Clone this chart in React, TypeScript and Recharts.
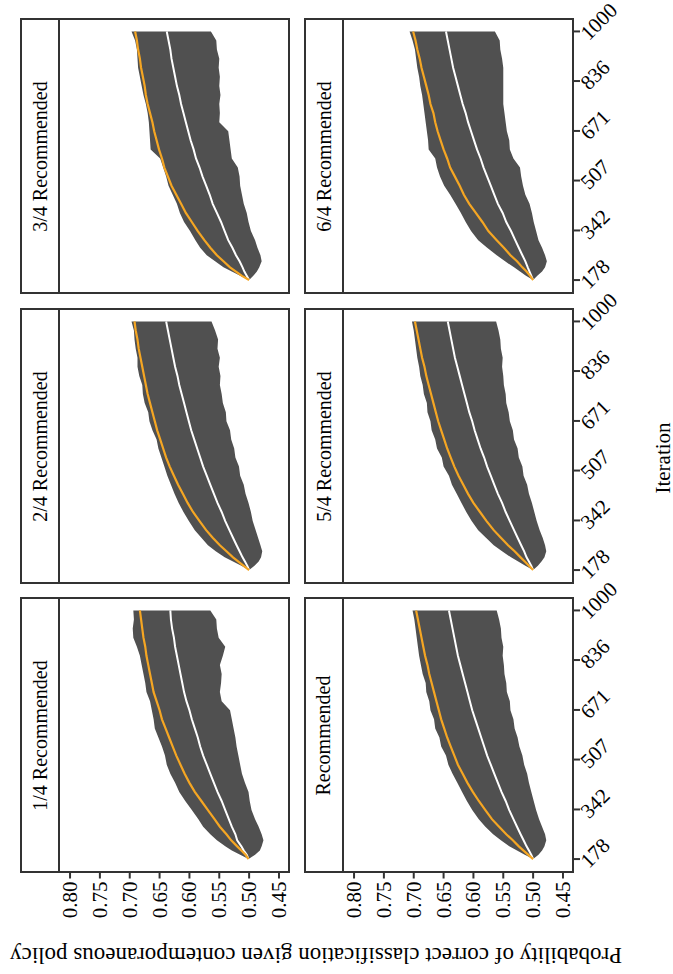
import { ComposedChart, Area, Line, XAxis, YAxis } from "recharts";

const FONT = '"Liberation Serif", "DejaVu Serif", serif';
const INK = "#333333";
const BAND = "#505050";
const ORANGE = "#f5a623";

// iteration at which each value was read (shared by all panels)
const iterations = [178, 192, 206, 220, 240, 260, 285, 310, 340, 370, 400, 430, 460, 490, 520, 550, 580, 610, 640, 670, 700, 730, 760, 790, 820, 850, 880, 910, 940, 970, 1000];

const probTicks = [0.8, 0.75, 0.7, 0.65, 0.6, 0.55, 0.5, 0.45];
const iterTicks = [178, 342, 507, 671, 836, 1000];
const probDomain = [0.4332, 0.8185];
const iterDomain = [136.9, 1041.1];

// 1/4 Recommended
const q1High = [0.501, 0.515, 0.529, 0.54, 0.554, 0.565, 0.577, 0.585, 0.596, 0.607, 0.617, 0.624, 0.632, 0.638, 0.641, 0.646, 0.652, 0.658, 0.66, 0.663, 0.666, 0.672, 0.674, 0.677, 0.68, 0.683, 0.688, 0.694, 0.695, 0.693, 0.694];
const q1Low = [0.501, 0.49, 0.482, 0.479, 0.476, 0.479, 0.484, 0.49, 0.496, 0.499, 0.501, 0.507, 0.512, 0.515, 0.518, 0.521, 0.523, 0.526, 0.529, 0.532, 0.546, 0.549, 0.547, 0.546, 0.549, 0.544, 0.54, 0.551, 0.554, 0.555, 0.565];
const q1Orange = [0.501, 0.506, 0.513, 0.52, 0.53, 0.538, 0.549, 0.558, 0.569, 0.58, 0.591, 0.6, 0.608, 0.615, 0.622, 0.628, 0.634, 0.64, 0.646, 0.65, 0.655, 0.66, 0.663, 0.666, 0.669, 0.672, 0.674, 0.677, 0.679, 0.681, 0.683];
const q1White = [0.501, 0.504, 0.509, 0.513, 0.52, 0.523, 0.529, 0.534, 0.54, 0.546, 0.553, 0.559, 0.565, 0.571, 0.577, 0.582, 0.586, 0.591, 0.596, 0.6, 0.605, 0.609, 0.612, 0.615, 0.618, 0.621, 0.624, 0.626, 0.629, 0.631, 0.632];

// 2/4 Recommended
const q2High = [0.5, 0.513, 0.527, 0.541, 0.556, 0.569, 0.58, 0.591, 0.601, 0.61, 0.618, 0.625, 0.631, 0.637, 0.642, 0.647, 0.652, 0.655, 0.662, 0.667, 0.669, 0.675, 0.678, 0.679, 0.684, 0.687, 0.687, 0.69, 0.692, 0.693, 0.697];
const q2Low = [0.5, 0.491, 0.484, 0.48, 0.478, 0.481, 0.485, 0.489, 0.494, 0.497, 0.501, 0.506, 0.509, 0.515, 0.517, 0.523, 0.525, 0.53, 0.532, 0.538, 0.539, 0.544, 0.546, 0.549, 0.548, 0.551, 0.549, 0.553, 0.552, 0.557, 0.563];
const q2Orange = [0.5, 0.509, 0.518, 0.527, 0.538, 0.549, 0.561, 0.572, 0.583, 0.594, 0.603, 0.611, 0.619, 0.626, 0.633, 0.639, 0.644, 0.649, 0.654, 0.658, 0.662, 0.666, 0.67, 0.673, 0.676, 0.679, 0.682, 0.685, 0.687, 0.69, 0.692];
const q2White = [0.5, 0.503, 0.507, 0.511, 0.516, 0.521, 0.527, 0.533, 0.54, 0.546, 0.553, 0.559, 0.565, 0.571, 0.577, 0.582, 0.587, 0.592, 0.597, 0.601, 0.605, 0.609, 0.613, 0.617, 0.62, 0.624, 0.627, 0.63, 0.633, 0.636, 0.639];

// 3/4 Recommended
const q3High = [0.5, 0.515, 0.529, 0.543, 0.557, 0.571, 0.582, 0.59, 0.599, 0.609, 0.616, 0.621, 0.628, 0.635, 0.639, 0.644, 0.649, 0.665, 0.666, 0.667, 0.668, 0.67, 0.673, 0.677, 0.68, 0.683, 0.686, 0.687, 0.688, 0.691, 0.697];
const q3Low = [0.5, 0.493, 0.487, 0.483, 0.479, 0.481, 0.486, 0.49, 0.497, 0.501, 0.504, 0.509, 0.512, 0.515, 0.516, 0.519, 0.529, 0.531, 0.533, 0.535, 0.55, 0.549, 0.55, 0.548, 0.55, 0.549, 0.551, 0.55, 0.554, 0.555, 0.564];
const q3Orange = [0.5, 0.512, 0.522, 0.532, 0.543, 0.554, 0.565, 0.575, 0.586, 0.596, 0.606, 0.614, 0.622, 0.63, 0.636, 0.642, 0.646, 0.651, 0.655, 0.659, 0.662, 0.666, 0.67, 0.673, 0.675, 0.678, 0.681, 0.683, 0.686, 0.688, 0.691];
const q3White = [0.5, 0.504, 0.508, 0.511, 0.516, 0.522, 0.528, 0.535, 0.541, 0.547, 0.554, 0.561, 0.566, 0.572, 0.578, 0.583, 0.589, 0.593, 0.598, 0.602, 0.606, 0.61, 0.614, 0.617, 0.621, 0.624, 0.627, 0.63, 0.632, 0.635, 0.638];

// Recommended
const recHigh = [0.5, 0.514, 0.527, 0.54, 0.554, 0.567, 0.58, 0.591, 0.602, 0.611, 0.619, 0.627, 0.635, 0.642, 0.646, 0.654, 0.657, 0.664, 0.666, 0.672, 0.674, 0.679, 0.68, 0.685, 0.688, 0.691, 0.693, 0.695, 0.697, 0.699, 0.702];
const recLow = [0.5, 0.491, 0.485, 0.481, 0.478, 0.48, 0.485, 0.49, 0.495, 0.499, 0.503, 0.507, 0.51, 0.515, 0.518, 0.523, 0.526, 0.531, 0.533, 0.538, 0.539, 0.544, 0.545, 0.548, 0.549, 0.551, 0.55, 0.553, 0.554, 0.557, 0.561];
const recOrange = [0.5, 0.508, 0.516, 0.524, 0.534, 0.545, 0.557, 0.569, 0.58, 0.591, 0.601, 0.61, 0.618, 0.626, 0.632, 0.638, 0.644, 0.649, 0.654, 0.658, 0.662, 0.666, 0.67, 0.674, 0.677, 0.681, 0.684, 0.687, 0.69, 0.693, 0.696];
const recWhite = [0.5, 0.503, 0.507, 0.511, 0.516, 0.521, 0.527, 0.533, 0.54, 0.546, 0.553, 0.559, 0.565, 0.571, 0.577, 0.582, 0.587, 0.592, 0.597, 0.602, 0.606, 0.61, 0.614, 0.618, 0.622, 0.626, 0.629, 0.632, 0.635, 0.638, 0.641];

// 5/4 Recommended
const q5High = [0.5, 0.513, 0.525, 0.537, 0.552, 0.566, 0.579, 0.592, 0.603, 0.612, 0.62, 0.628, 0.636, 0.641, 0.65, 0.653, 0.661, 0.664, 0.67, 0.672, 0.677, 0.678, 0.683, 0.685, 0.689, 0.691, 0.694, 0.696, 0.698, 0.7, 0.703];
const q5Low = [0.5, 0.492, 0.486, 0.481, 0.478, 0.48, 0.484, 0.489, 0.494, 0.498, 0.502, 0.507, 0.51, 0.516, 0.518, 0.524, 0.526, 0.532, 0.534, 0.539, 0.541, 0.545, 0.546, 0.549, 0.55, 0.552, 0.551, 0.554, 0.555, 0.558, 0.562];
const q5Orange = [0.5, 0.507, 0.514, 0.521, 0.531, 0.542, 0.554, 0.566, 0.578, 0.589, 0.6, 0.609, 0.617, 0.625, 0.632, 0.638, 0.644, 0.649, 0.654, 0.659, 0.663, 0.667, 0.671, 0.675, 0.679, 0.682, 0.686, 0.689, 0.692, 0.695, 0.698];
const q5White = [0.5, 0.503, 0.507, 0.511, 0.515, 0.52, 0.526, 0.532, 0.539, 0.546, 0.552, 0.559, 0.565, 0.571, 0.577, 0.582, 0.588, 0.593, 0.598, 0.602, 0.607, 0.611, 0.615, 0.619, 0.623, 0.627, 0.631, 0.634, 0.637, 0.64, 0.643];

// 6/4 Recommended
const q6High = [0.5, 0.512, 0.522, 0.532, 0.547, 0.561, 0.577, 0.592, 0.604, 0.613, 0.621, 0.63, 0.639, 0.649, 0.656, 0.661, 0.664, 0.675, 0.676, 0.678, 0.68, 0.682, 0.684, 0.686, 0.689, 0.691, 0.694, 0.696, 0.698, 0.702, 0.707];
const q6Low = [0.5, 0.493, 0.485, 0.48, 0.477, 0.48, 0.485, 0.491, 0.495, 0.499, 0.502, 0.506, 0.513, 0.517, 0.52, 0.522, 0.533, 0.539, 0.54, 0.544, 0.546, 0.548, 0.55, 0.55, 0.55, 0.55, 0.55, 0.552, 0.555, 0.556, 0.564];
const q6Orange = [0.5, 0.505, 0.511, 0.518, 0.527, 0.538, 0.549, 0.561, 0.575, 0.585, 0.596, 0.607, 0.616, 0.623, 0.631, 0.639, 0.644, 0.65, 0.655, 0.66, 0.664, 0.667, 0.672, 0.675, 0.679, 0.683, 0.687, 0.69, 0.694, 0.697, 0.701];
const q6White = [0.5, 0.503, 0.506, 0.509, 0.513, 0.518, 0.524, 0.53, 0.537, 0.545, 0.551, 0.559, 0.565, 0.571, 0.577, 0.583, 0.588, 0.594, 0.599, 0.604, 0.609, 0.613, 0.618, 0.622, 0.626, 0.63, 0.634, 0.637, 0.64, 0.643, 0.646];

const panels = [
  { title: "3/4 Recommended", row: 0, col: 0, high: q3High, low: q3Low, orange: q3Orange, white: q3White },
  { title: "6/4 Recommended", row: 0, col: 1, high: q6High, low: q6Low, orange: q6Orange, white: q6White },
  { title: "2/4 Recommended", row: 1, col: 0, high: q2High, low: q2Low, orange: q2Orange, white: q2White },
  { title: "5/4 Recommended", row: 1, col: 1, high: q5High, low: q5Low, orange: q5Orange, white: q5White },
  { title: "1/4 Recommended", row: 2, col: 0, high: q1High, low: q1Low, orange: q1Orange, white: q1White },
  { title: "Recommended", row: 2, col: 1, high: recHigh, low: recLow, orange: recOrange, white: recWhite },
];

const STRIP_X = [21, 305];
const PLOT_X = [59, 343];
const ROW_Y = [19.3, 309.3, 598.3];
const PLOT_W = 230;
const PLOT_H = 273.5;
const PAD_TOP = 40;

function ProbTick(props: any) {
  const { x, y, payload } = props;
  const ty = y + 1;
  return (
    <text x={x} y={ty} transform={`rotate(-90 ${x} ${ty})`} textAnchor="end" dominantBaseline="central" fontFamily={FONT} fontSize={21} fill="#000">
      {payload.value.toFixed(2)}
    </text>
  );
}

function IterTick(props: any) {
  const { x, y, payload } = props;
  const tx = x + 2;
  const ty = y + 5;
  return (
    <text x={tx} y={ty} transform={`rotate(-45 ${tx} ${ty})`} textAnchor="start" dominantBaseline="central" fontFamily={FONT} fontSize={21} fill="#000">
      {payload.value}
    </text>
  );
}

function Panel({ p }: { p: (typeof panels)[number] }) {
  const bottom = p.row === 2;
  const right = p.col === 1;
  const rows = iterations.map((it, i) => ({
    iter: it,
    band: [p.low[i], p.high[i]],
    orange: p.orange[i],
    white: p.white[i],
  }));
  const left = PLOT_X[p.col];
  const top = ROW_Y[p.row];
  return (
    <>
      <div
        style={{
          position: "absolute",
          left: STRIP_X[p.col] - 1,
          top: top - 1,
          width: left - STRIP_X[p.col] + 2,
          height: PLOT_H + 2,
          border: `2px solid ${INK}`,
          boxSizing: "border-box",
          display: "flex",
          alignItems: "center",
          justifyContent: "center",
        }}
      >
        <span style={{ transform: "rotate(-90deg)", whiteSpace: "nowrap", fontFamily: FONT, fontSize: 20 }}>{p.title}</span>
      </div>
      <div style={{ position: "absolute", left, top: top - PAD_TOP }}>
        <ComposedChart
          layout="vertical"
          width={PLOT_W + (right ? 80 : 0)}
          height={PAD_TOP + PLOT_H + (bottom ? 60 : 0)}
          data={rows}
          margin={{ top: PAD_TOP, right: 0, bottom: 0, left: 0 }}
        >
          <XAxis
            type="number"
            domain={probDomain}
            ticks={probTicks}
            interval={0}
            reversed
            allowDataOverflow
            hide={!bottom}
            height={60}
            axisLine={false}
            tickSize={7}
            tickLine={{ stroke: INK, strokeWidth: 2 }}
            tick={<ProbTick />}
          />
          <YAxis
            type="number"
            dataKey="iter"
            domain={iterDomain}
            ticks={iterTicks}
            interval={0}
            reversed
            allowDataOverflow
            orientation="right"
            hide={!right}
            width={80}
            axisLine={false}
            tickSize={7}
            tickLine={{ stroke: INK, strokeWidth: 2 }}
            tick={<IterTick />}
          />
          <Area dataKey="band" type="linear" fill={BAND} fillOpacity={1} stroke="none" isAnimationActive={false} />
          <Line dataKey="white" type="linear" stroke="#ffffff" strokeWidth={2} dot={false} isAnimationActive={false} />
          <Line dataKey="orange" type="linear" stroke={ORANGE} strokeWidth={2.2} dot={false} isAnimationActive={false} />
        </ComposedChart>
      </div>
      <div
        style={{
          position: "absolute",
          left: left - 1,
          top: top - 1,
          width: PLOT_W + 2,
          height: PLOT_H + 2,
          border: `2px solid ${INK}`,
          boxSizing: "border-box",
          pointerEvents: "none",
        }}
      />
    </>
  );
}

export default function App() {
  return (
    <div style={{ position: "absolute", left: 0, top: 0, width: 673, height: 974, background: "#fff", overflow: "hidden" }}>
      <style>{"svg.recharts-surface { overflow: visible; }"}</style>
      {panels.map((p) => (
        <Panel key={p.title} p={p} />
      ))}
      <div
        style={{
          position: "absolute",
          left: 316,
          top: 955,
          transform: "translate(-50%, -50%) rotate(180deg)",
          whiteSpace: "nowrap",
          fontFamily: FONT,
          fontSize: 23,
        }}
      >
        Probability of correct classification given contemporaneous policy
      </div>
      <div
        style={{
          position: "absolute",
          left: 663,
          top: 458,
          transform: "translate(-50%, -50%) rotate(-90deg)",
          whiteSpace: "nowrap",
          fontFamily: FONT,
          fontSize: 21,
        }}
      >
        Iteration
      </div>
    </div>
  );
}
